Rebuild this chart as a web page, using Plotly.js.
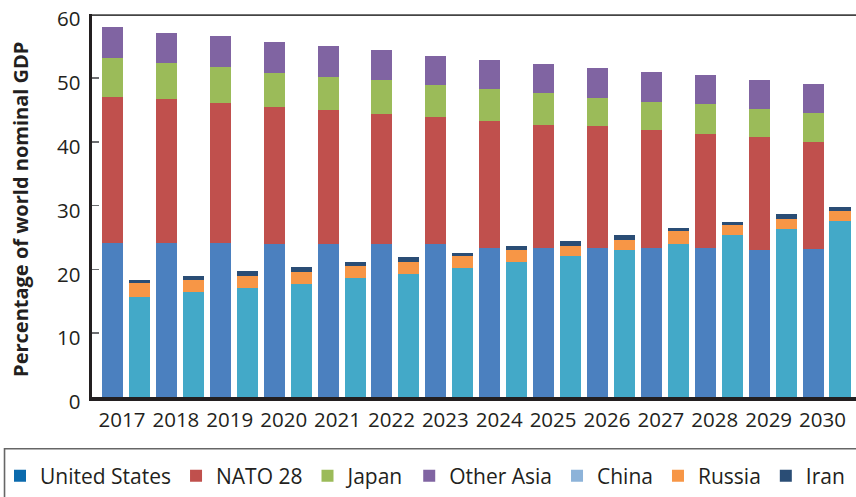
<!DOCTYPE html>
<html>
<head>
<meta charset="utf-8">
<script src="https://cdn.plot.ly/plotly-3.0.1.min.js"></script>
<style>
html,body{margin:0;padding:0;background:#fff;}
#chart{width:856px;height:497px;}
</style>
</head>
<body>
<div id="chart"></div>
<script>
// ---- data ----
const years = [2017,2018,2019,2020,2021,2022,2023,2024,2025,2026,2027,2028,2029,2030];
const unitedStates = [24.2,24.2,24.2,23.9,23.9,23.9,23.9,23.4,23.4,23.4,23.4,23.4,23.0,23.2];
const nato28 = [22.8,22.5,21.9,21.6,21.0,20.4,20.0,19.9,19.3,19.0,18.4,17.8,17.8,16.8];
const japan = [6.2,5.6,5.6,5.3,5.3,5.3,5.0,5.0,5.0,4.4,4.4,4.7,4.4,4.5];
const otherAsia = [4.8,4.8,4.8,4.8,4.8,4.8,4.5,4.5,4.5,4.8,4.8,4.5,4.5,4.5];
const china = [15.6,16.5,17.1,17.7,18.7,19.3,20.2,21.2,22.1,23.0,24.0,25.4,26.3,27.6];
const russia = [2.2,1.9,1.9,1.9,1.9,1.9,1.9,1.9,1.6,1.6,2.0,1.6,1.6,1.6];
const iran = [0.5,0.5,0.8,0.8,0.5,0.8,0.5,0.5,0.8,0.8,0.5,0.5,0.8,0.5];
const tickLabels = years.map(String);
const yTicks = [0,10,20,30,40,50,60];
const seriesNames = ['United States','NATO 28','Japan','Other Asia','China','Russia','Iran'];
const yTitle = 'Percentage of world nominal GDP';

// ---- styling ----
const barColors = ['#4b80bf','#c0504d','#9bbb59','#8064a2','#43a9c8','#f79646','#2a4d75'];
const legendColors = ['#0b6aad','#c0504d','#9bbb59','#8064a2','#8db3d9','#f79646','#2a4d75'];
const textColor = '#231f20';
const FONT = '"Open Sans", "Noto Sans", sans-serif';

const westX = years.map(y => y - 0.25);
const eastX = years.map(y => y + 0.25);
const BW = 0.39;

function bar(x, y, i){
  return {type:'bar', x:x, y:y, name:seriesNames[i], width:BW,
    marker:{color:barColors[i], line:{width:0}}, showlegend:false, hoverinfo:'skip'};
}
const traces = [
  bar(westX, unitedStates, 0),
  bar(westX, nato28, 1),
  bar(westX, japan, 2),
  bar(westX, otherAsia, 3),
  bar(eastX, china, 4),
  bar(eastX, russia, 5),
  bar(eastX, iran, 6)
];
// legend entries
seriesNames.forEach((n,i)=>{
  traces.push({type:'bar', x:[null], y:[null], name:n,
    marker:{color:legendColors[i]}, showlegend:true, hoverinfo:'skip'});
});

const layout = {
  width:856, height:497,
  margin:{l:91.5, r:0, t:13.8, b:98, pad:0},
  paper_bgcolor:'#fff', plot_bgcolor:'#fff',
  barmode:'stack',
  font:{family:FONT, color:textColor},
  xaxis:{
    range:[2016.369, 2030.547], tickvals:years, ticktext:tickLabels,
    showgrid:false, zeroline:false, showline:true, linecolor:'#231f20', linewidth:3.5,
    ticks:'', tickfont:{size:20.5, color:textColor, family:FONT}, ticklabelshift:-4, ticklabelstandoff:2,
    fixedrange:true
  },
  yaxis:{
    range:[0,60.02], tickvals:yTicks, ticktext:yTicks.map(String),
    showgrid:false, zeroline:false, showline:true, linecolor:'#231f20', linewidth:3.5,
    ticks:'inside', ticklen:7, tickwidth:1.5, tickcolor:'#6d6e71',
    tickfont:{size:20.5, color:textColor, family:FONT}, ticklabelstandoff:4, ticklabelshift:5,
    ticklabeloverflow:'allow',
    automargin:false, fixedrange:true
  },
  annotations:[
    {text:yTitle, xref:'paper', yref:'paper', x:-0.0935, y:0.49, xanchor:'center', yanchor:'middle',
     textangle:-90, showarrow:false, font:{size:20, color:textColor, family:FONT, weight:'bold'}}
  ],
  shapes:[
    {type:'line', xref:'paper', yref:'paper', x0:0, x1:1, y0:0.997, y1:0.997, line:{color:'#444', width:1.8}},
    {type:'rect', xref:'paper', yref:'paper', x0:-0.1145, x1:1.05, y0:-0.135, y1:-0.3, line:{color:'#666', width:1.6}, fillcolor:'rgba(0,0,0,0)'}
  ],
  legend:{
    orientation:'h', x:-0.121, xanchor:'left', y:-0.153, yanchor:'top',
    font:{size:21, color:textColor, family:FONT}, itemwidth:30,
    traceorder:'normal', bgcolor:'rgba(0,0,0,0)', borderwidth:0
  },
  showlegend:true
};

Plotly.newPlot('chart', traces, layout, {staticPlot:true, displayModeBar:false});
</script>
</body>
</html>
